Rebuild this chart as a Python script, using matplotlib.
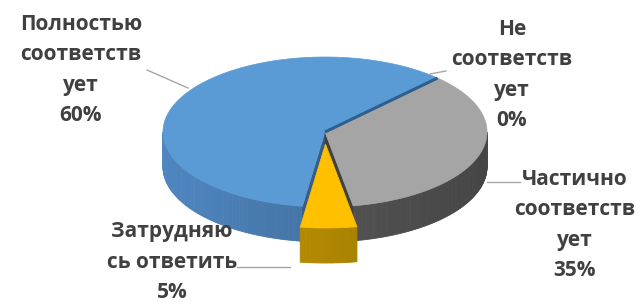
import numpy as np
import matplotlib.pyplot as plt
from matplotlib.patches import Polygon

labels = ['Полностью\nсоответств\nует', 'Не\nсоответств\nует',
          'Частично\nсоответств\nует', 'Затрудняю\nсь ответить']
values = [60, 0, 35, 5]
top_colors = ['#5B9BD5', '#ED7D31', '#A5A5A5', '#FFC000']
side_colors = ['#4F86C0', '#AE5A21', '#626262', '#CD9E00']
explode = [0, 0, 0, 0.16]

# layout of the fake 3d pie (pixel space)
start = 188          # first slice angle, degrees clockwise from top
cx, cy, a, b, depth = 325, 132, 162, 75, 35
label_xy = [(81, 70), (512, 75), (575, 225), (172, 262)]
leaders = [((147, 70), (188, 88)), ((430, 74), (446, 71)),
           ((487, 182), (520, 182)), ((237, 267), (290, 267))]


def pt(t, r=1.0, off=(0, 0), dz=0, grow=1.0):
    t = np.radians(t)
    return (cx + off[0] + a * r * grow * np.sin(t), cy + off[1] - b * r * grow * np.cos(t) + dz)


def shade(c, t):
    f = 0.85 - 0.15 * np.sin(np.radians(t))
    rgb = np.array(plt.matplotlib.colors.to_rgb(c)) * f
    return np.clip(rgb, 0, 1)


fig = plt.figure(figsize=(6.42, 3.05), dpi=100)
ax = fig.add_axes([0, 0, 1, 1])
ax.set_xlim(0, 642)
ax.set_ylim(305, 0)
ax.axis('off')

total = sum(values)
angles = start + 360 * np.concatenate([[0], np.cumsum(values)]) / total
slices = []
for i, v in enumerate(values):
    t0, t1 = angles[i], angles[i + 1]
    mid = (t0 + t1) / 2
    e = explode[i]
    off = (a * e * np.sin(np.radians(mid)), -b * e * np.cos(np.radians(mid)))
    slices.append((i, v, t0, t1, off))


def draw_slice(i, v, t0, t1, off, gap_faces, grow=1.0):
    if v == 0:
        return
    # outer wall: only the front half (90..270) is visible
    for k in (-360, 0, 360):
        lo, hi = max(t0, 90 + k), min(t1, 270 + k)
        if hi <= lo:
            continue
        ts = np.linspace(lo, hi, int(hi - lo) + 2)
        for u0, u1 in zip(ts[:-1], ts[1:]):
            quad = [pt(u0, 1, off, 0, grow), pt(u1, 1, off, 0, grow),
                    pt(u1, 1, off, depth, grow), pt(u0, 1, off, depth, grow)]
            col = shade(side_colors[i], (u0 + u1) / 2)
            ax.add_patch(Polygon(quad, closed=True, fc=col, ec=col, lw=0.6))
    # radial faces looking into the gap of an exploded neighbour
    for t in gap_faces:
        quad = [pt(t, 0, off), pt(t, 1, off), pt(t, 1, off, depth), pt(t, 0, off, depth)]
        col = shade(side_colors[i], t) * 0.8
        ax.add_patch(Polygon(quad, closed=True, fc=col, ec=col, lw=0.5))
    ts = np.linspace(t0, t1, max(int(t1 - t0) * 2, 4))
    face = [pt(0, 0, off)] + [pt(t, 1, off, 0, grow) for t in ts]
    ax.add_patch(Polygon(face, closed=True, fc=top_colors[i], ec=top_colors[i], lw=0.5))


# main body first, then exploded pieces in front
ex = [s for s in slices if explode[s[0]] > 0]
for s in slices:
    if explode[s[0]] > 0:
        continue
    faces = []
    for e in ex:
        if abs((s[3] - e[2]) % 360) < 1e-6:
            faces.append(s[3])
        if abs((s[2] - e[3]) % 360) < 1e-6:
            faces.append(s[2])
    draw_slice(*s, faces)

# edge of the zero slice between blue and grey
t_zero = angles[1]
p0, p1 = pt(t_zero, 0), pt(t_zero, 1)
ax.plot([p0[0], p1[0]], [p0[1], p1[1]], color='#2E5F8E', lw=2.2, solid_capstyle='butt')

# exploded piece sits nearer the viewer, so it looks a little larger
for s in ex:
    draw_slice(*s, [], grow=1.12)

for (x0, y0), (x1, y1) in leaders:
    ax.plot([x0, x1], [y0, y1], color='#A6A6A6', lw=1)

for lab, v, (x, y) in zip(labels, values, label_xy):
    ax.text(x, y, f'{lab}\n{v}%', ha='center', va='center', fontsize=15,
            fontweight='bold', family=['Open Sans', 'DejaVu Sans'],
            color='#404040', linespacing=1.6)

fig.savefig('out.png', dpi=100)
